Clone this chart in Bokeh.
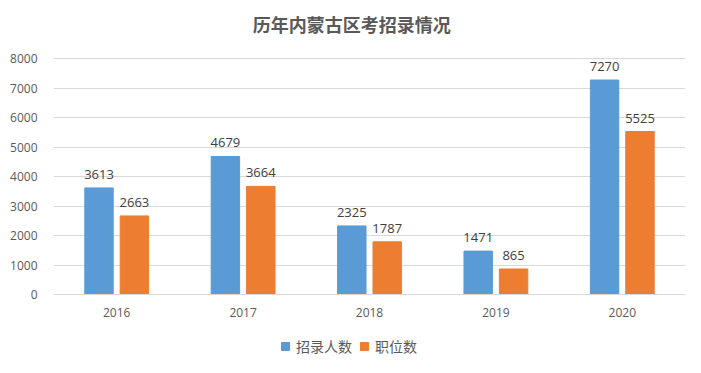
from bokeh.plotting import figure
from bokeh.models import (ColumnDataSource, FactorRange, Legend, LegendItem, LabelSet, Label,
                          Range1d, FixedTicker, Span)
from bokeh.core.properties import value
from bokeh.transform import dodge
from bokeh.embed import file_html
from bokeh.resources import INLINE

years = ["2016", "2017", "2018", "2019", "2020"]
recruits = [3613, 4679, 2325, 1471, 7270]
positions = [2663, 3664, 1787, 865, 5525]
series_names = ["招录人数", "职位数"]
y_ticks = [0, 1000, 2000, 3000, 4000, 5000, 6000, 7000, 8000]
title_text = "历年内蒙古区考招录情况"

src = ColumnDataSource(dict(year=years, recruits=recruits, positions=positions,
                            base=[0] * len(years),
                            rl=[str(v) for v in recruits], pl=[str(v) for v in positions]))

# frame covers the whole chart height; value axis occupies 0..8000 (236 px)
px_per_unit = 236 / 8000
y_top = 8000 + 58 / px_per_unit
y_bot = -(357 - 294) / px_per_unit

p = figure(width=685, height=357, x_range=FactorRange(*years, range_padding=0),
           y_range=Range1d(y_bot, y_top), output_backend="svg", toolbar_location=None,
           min_border_left=53, min_border_right=0, min_border_top=0, min_border_bottom=0)
p.outline_line_color = None

b1 = p.vbar(x=dodge("year", -0.14, range=p.x_range), top="recruits", width=0.225,
            source=src, color="#5b9bd5")
b2 = p.vbar(x=dodge("year", 0.14, range=p.x_range), top="positions", width=0.225,
            source=src, color="#ed7d31")

for col, lab, off in [("recruits", "rl", -0.14), ("positions", "pl", 0.14)]:
    p.add_layout(LabelSet(x=dodge("year", off, range=p.x_range), y=col, text=lab, source=src,
                          text_align="center", text_baseline="bottom", y_offset=9,
                          text_font_size=value("13px"), text_color=value("#404040"),
                          text_font=value("Open Sans")))

# category labels under the baseline
p.text(x="year", y="base", text="year", source=src, text_align="center",
       text_baseline="middle", y_offset=18, text_font_size="12px",
       text_color="#595959", text_font=value("Open Sans"))

p.xgrid.grid_line_color = None
p.ygrid.grid_line_color = "#d9d9d9"
p.ygrid.bounds = (0, 8000)
p.add_layout(Span(location=0, dimension="width", line_color="#d9d9d9", line_width=1))

p.xaxis.visible = False
p.yaxis.ticker = FixedTicker(ticks=y_ticks)
p.yaxis.bounds = (0, 8000)
p.yaxis.axis_line_color = None
p.yaxis.major_tick_line_color = None
p.yaxis.minor_tick_line_color = None
p.yaxis.major_label_text_font_size = "12px"
p.yaxis.major_label_text_color = "#595959"
p.yaxis.major_label_text_font = "Open Sans"
p.yaxis.major_label_standoff = 10

p.add_layout(Label(x=2.36, y=y_top, y_offset=-23, text=title_text, text_align="center",
                   text_baseline="middle", text_font="Noto Sans CJK SC",
                   text_font_size="18px", text_font_style="bold", text_color="#595959"))

legend = Legend(items=[LegendItem(label=series_names[0], renderers=[b1]),
                       LegendItem(label=series_names[1], renderers=[b2])],
                orientation="horizontal", location=(227, 1),
                label_text_font="Noto Sans CJK SC", label_text_font_size="14px",
                label_text_color="#595959", glyph_width=10, glyph_height=10,
                spacing=7, label_standoff=6, border_line_color=None,
                background_fill_alpha=0, margin=0, padding=0)
p.add_layout(legend)

open("out.html", "w").write(file_html(p, INLINE))
